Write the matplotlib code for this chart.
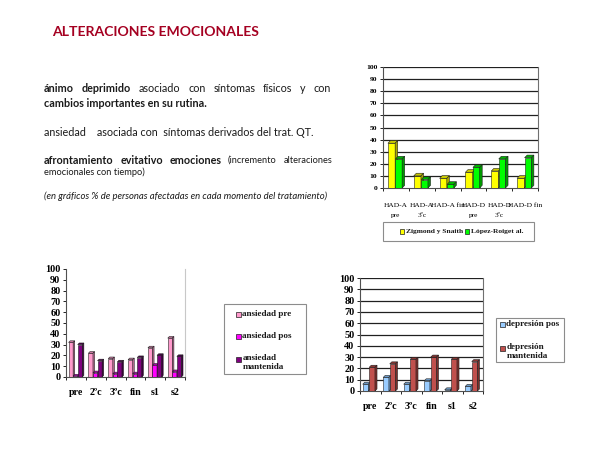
import matplotlib
matplotlib.use("Agg")
import matplotlib.pyplot as plt
from matplotlib.patches import Polygon, Rectangle

# ---------------- data ----------------
had_labels = ["HAD-A\npre", "HAD-A\n3ºc", "HAD-A fin", "HAD-D\npre", "HAD-D\n3ºc", "HAD-D fin"]
zigmond = [37, 10, 8, 13, 14, 8]
lopez = [24, 7, 3, 17, 24, 25]
had_series = ["Zigmond y Snaith", "López-Roiget al."]

phases = ["pre", "2ºc", "3ºc", "fin", "s1", "s2"]
ans_pre = [32, 22, 17, 16, 27, 36]
ans_pos = [1, 4, 3, 3, 11, 5]
ans_mant = [30, 15, 14, 18, 20, 19]
ans_series = ["ansiedad pre", "ansiedad pos", "ansiedad\nmantenida"]

dep_pos = [6, 12, 6, 9, 1, 4]
dep_mant = [21, 24, 28, 30, 28, 26]
dep_series = ["depresión pos", "depresión\nmantenida"]

yticks = list(range(0, 101, 10))

W, H = 600, 450
fig = plt.figure(figsize=(6, 4.5), dpi=100)
fig.patch.set_facecolor("white")


def fx(x):
    return x / W


def fy(y):
    return 1 - y / H


SERIF = "Liberation Serif"
SANS = "Lato"
TXT = "#1a1a1a"

# ---------------- text block ----------------
fig.text(fx(52), fy(32), "ALTERACIONES EMOCIONALES", color="#A50021",
         fontsize=10.1, fontweight="bold", family=SANS, va="center", ha="left")

renderer = fig.canvas.get_renderer()


def justified(y, x0, x1, words):
    texts = []
    for w, wt, sz in words:
        t = fig.text(0, fy(y), w, fontsize=sz, fontweight=wt, family=SANS,
                     color=TXT, va="center", ha="left")
        texts.append(t)
    widths = [t.get_window_extent(renderer).width for t in texts]
    gap = (x1 - x0 - sum(widths)) / max(len(texts) - 1, 1)
    x = x0
    for t, w in zip(texts, widths):
        t.set_x(fx(x))
        x += w + gap


S1 = 7.75
S2 = 6.7
justified(89, 44, 331, [("ánimo", "bold", S1), ("deprimido", "bold", S1),
                        ("asociado", "normal", S1), ("con", "normal", S1),
                        ("síntomas", "normal", S1), ("físicos", "normal", S1),
                        ("y", "normal", S1), ("con", "normal", S1)])
fig.text(fx(44), fy(104), "cambios importantes en su rutina.", fontsize=S1,
         fontweight="bold", family=SANS, color=TXT, va="center")
fig.text(fx(44), fy(132), "ansiedad    asociada con  síntomas derivados del trat. QT.",
         fontsize=S1, family=SANS, color=TXT, va="center")
justified(160, 44, 332, [("afrontamiento", "bold", S1), ("evitativo", "bold", S1),
                         ("emociones", "bold", S1), ("(incremento", "normal", S2),
                         ("alteraciones", "normal", S2)])
fig.text(fx(44), fy(172), "emocionales con tiempo)", fontsize=S2, family=SANS,
         color=TXT, va="center")
fig.text(fx(44), fy(196), "(en gráficos % de personas afectadas en cada momento del tratamiento)",
         fontsize=6.8, style="italic", family=SANS, color=TXT, va="center")


# ---------------- helpers ----------------
def bar3d(ax, xs, vals, width, front, top, side, dx, dy, ec="#202020"):
    ax.bar(xs, vals, width, align="edge", color=front, edgecolor=ec,
           linewidth=0.4, zorder=3)
    for x, v in zip(xs, vals):
        ax.add_patch(Polygon([(x, v), (x + width, v), (x + width + dx, v + dy), (x + dx, v + dy)],
                             closed=True, fc=top, ec=ec, lw=0.4, zorder=3))
        ax.add_patch(Polygon([(x + width, 0), (x + width + dx, dy), (x + width + dx, v + dy), (x + width, v)],
                             closed=True, fc=side, ec=ec, lw=0.4, zorder=3))


def style_axes(ax, n, ysize, grid, border_color):
    ax.set_xlim(-0.5, n - 0.5)
    ax.set_ylim(0, 100)
    ax.set_yticks(yticks)
    ax.set_yticklabels([str(v) for v in yticks], fontsize=ysize,
                       fontweight="bold", family=SERIF)
    ax.tick_params(axis="y", length=2.5, width=0.6, pad=1.5, direction="out")
    ax.set_xticks(range(n))
    ax.set_xticks([i - 0.5 for i in range(n + 1)], minor=True)
    ax.tick_params(axis="x", which="major", length=0)
    ax.tick_params(axis="x", which="minor", length=2.5, width=0.6, direction="out")
    ax.spines["top"].set_visible(False)
    ax.spines["right"].set_color(border_color)
    ax.spines["right"].set_linewidth(0.8)
    ax.spines["left"].set_color("#505050")
    ax.spines["left"].set_linewidth(0.8)
    ax.spines["bottom"].set_color("#505050")
    ax.spines["bottom"].set_linewidth(0.8)
    if grid:
        for v in yticks[1:]:
            ax.axhline(v, color="#202020", lw=0.9, zorder=1)
    ax.set_facecolor("white")


def legend_box(x0, y0, x1, y1, items, size, square=5):
    fig.patches.append(Rectangle((fx(x0), fy(y1)), fx(x1) - fx(x0), fy(y0) - fy(y1),
                                 transform=fig.transFigure, fill=False,
                                 ec="#8c8c8c", lw=0.8))
    for (label, color, sx, sy) in items:
        fig.patches.append(Rectangle((fx(sx), fy(sy + square / 2)), square / W, square / H,
                                     transform=fig.transFigure, fc=color, ec="#202020", lw=0.5))
        if "\n" in label:
            fig.text(fx(sx + square + 1.5), fy(sy - 5), label, fontsize=size, fontweight="bold",
                     family=SERIF, va="top", ha="left", color=TXT, linespacing=1.2)
        else:
            fig.text(fx(sx + square + 1.5), fy(sy), label, fontsize=size, fontweight="bold",
                     family=SERIF, va="center", ha="left", color=TXT)


# ---------------- top right chart ----------------
ax1 = fig.add_axes([fx(383), fy(188), fx(538) - fx(383), fy(67) - fy(188)])
n = len(had_labels)
bar3d(ax1, [i - 0.31 for i in range(n)], zigmond, 0.28, "#FFFF00", "#C8C800", "#A8A800", 0.1, 2.2)
bar3d(ax1, [i - 0.02 for i in range(n)], lopez, 0.26, "#00FF00", "#00B400", "#009A00", 0.1, 2.2)
style_axes(ax1, n, 5.4, True, "#707070")
ax1.set_xticklabels(had_labels, fontsize=5.3, family=SERIF, va="top", linespacing=2.1)
ax1.tick_params(axis="x", which="major", pad=11)

legend_box(383, 222, 534, 241,
           [(had_series[0], "#FFFF00", 400, 231.5), (had_series[1], "#00FF00", 465, 231.5)],
           5.4, square=4.5)

# ---------------- bottom left chart ----------------
ax2 = fig.add_axes([fx(66), fy(377), fx(185) - fx(66), fy(269) - fy(377)])
n = len(phases)
bw = 0.23
bar3d(ax2, [i - 0.37 for i in range(n)], ans_pre, bw, "#FF99CC", "#D07AA6", "#B86A92", 0.08, 1.5)
bar3d(ax2, [i - 0.37 + bw for i in range(n)], ans_pos, bw, "#FF00FF", "#C000C0", "#A000A0", 0.08, 1.5)
bar3d(ax2, [i - 0.37 + 2 * bw for i in range(n)], ans_mant, bw, "#800080", "#4A004A", "#3A003A", 0.08, 1.5)
style_axes(ax2, n, 7.4, False, "#c8c8c8")
ax2.set_xticklabels(phases, fontsize=7.2, fontweight="bold", family=SERIF)
ax2.tick_params(axis="x", which="major", pad=8)

legend_box(224, 304, 306, 374,
           [(ans_series[0], "#FF99CC", 236, 314), (ans_series[1], "#FF00FF", 236, 336),
            (ans_series[2], "#800080", 236, 359)], 6.6)

# ---------------- bottom right chart ----------------
ax3 = fig.add_axes([fx(360), fy(391), fx(483) - fx(360), fy(278) - fy(391)])
bw = 0.28
bar3d(ax3, [i - 0.37 for i in range(n)], dep_pos, bw, "#99CCFF", "#6F9CC8", "#5E88B0", 0.1, 1.8)
bar3d(ax3, [i - 0.05 for i in range(n)], dep_mant, bw, "#C0504D", "#8C3633", "#7A2E2B", 0.1, 1.8)
style_axes(ax3, n, 7.4, True, "#707070")
ax3.set_xticklabels(phases, fontsize=7.2, fontweight="bold", family=SERIF)
ax3.tick_params(axis="x", which="major", pad=8)

legend_box(496, 318, 564, 362,
           [(dep_series[0], "#99CCFF", 500, 324), (dep_series[1], "#C0504D", 500, 348)], 6.6)

fig.savefig("out.png", dpi=100, facecolor="white")
